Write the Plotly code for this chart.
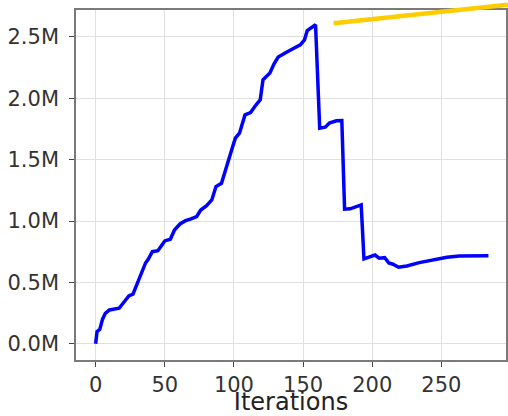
import plotly.graph_objects as go

# Blue series: iteration index and value (millions)
iterations = [0, 1, 3, 5, 7, 10, 17, 22, 24, 27, 31, 32, 36, 38, 41, 45, 48, 50, 54, 57,
              61, 65, 69, 73, 76, 80, 84, 87, 91, 93, 95, 98, 101, 104, 108, 112, 116, 119, 121, 124,
              126, 129, 132, 137, 140, 145, 148, 151, 153, 156, 159, 162, 166, 169, 174, 178, 180, 184, 189, 192,
              194, 198, 202, 205, 209, 212, 215, 219, 225, 234, 244, 254, 263, 273, 284]
values_m = [0.0, 0.098, 0.117, 0.200, 0.248, 0.275, 0.289, 0.370, 0.390, 0.403, 0.520, 0.540, 0.656, 0.688, 0.750, 0.758, 0.805, 0.838, 0.851, 0.927,
            0.976, 1.003, 1.017, 1.036, 1.090, 1.123, 1.172, 1.281, 1.308, 1.376, 1.458, 1.566, 1.675, 1.716, 1.865, 1.884, 1.947, 1.988, 2.151, 2.184,
            2.206, 2.281, 2.336, 2.369, 2.390, 2.418, 2.436, 2.477, 2.553, 2.573, 2.600, 1.757, 1.765, 1.798, 1.817, 1.819, 1.096, 1.099, 1.117, 1.131,
            0.692, 0.710, 0.723, 0.697, 0.701, 0.658, 0.648, 0.623, 0.634, 0.661, 0.683, 0.705, 0.715, 0.718, 0.716]

# Yellow segment (partly outside the axes frame)
ref_x = [172, 298]
ref_y = [2.612, 2.763]

x_ticks = [0, 50, 100, 150, 200, 250]
y_ticks = [0.0, 0.5, 1.0, 1.5, 2.0, 2.5]
y_tick_labels = ["0.0M", "0.5M", "1.0M", "1.5M", "2.0M", "2.5M"]

FONT = "DejaVu Sans"
tickfont = dict(family=FONT, size=21, color="#333333")

fig = go.Figure()
fig.add_trace(go.Scatter(x=iterations, y=values_m, mode="lines",
                         line=dict(color="#0000ff", width=3.5),
                         xaxis="x", yaxis="y", showlegend=False, hoverinfo="skip"))
fig.add_trace(go.Scatter(x=ref_x, y=ref_y, mode="lines",
                         line=dict(color="#ffcc00", width=4.5),
                         xaxis="x2", yaxis="y2", showlegend=False, hoverinfo="skip"))

axis_common = dict(showgrid=True, gridcolor="#e0e0e0", gridwidth=1,
                   showline=True, linecolor="#7a7a7a", linewidth=1.6, mirror=True,
                   ticks="outside", ticklen=5, tickwidth=1, tickcolor="#444444",
                   tickfont=tickfont, zeroline=False, automargin=False)

fig.update_layout(
    width=508, height=416,
    margin=dict(l=76, r=0, t=0, b=56, pad=0, autoexpand=False),
    paper_bgcolor="white", plot_bgcolor="rgba(0,0,0,0)",
    showlegend=False,
    xaxis=dict(domain=[0, 430 / 432], range=[-14.2, 296.7], tickvals=x_ticks,
               title=dict(text="Iterations", font=dict(family=FONT, size=24, color="#222222"), standoff=2),
               anchor="y", **axis_common),
    yaxis=dict(domain=[0, 350 / 360], range=[-0.1329, 2.720], tickvals=y_ticks, ticktext=y_tick_labels,
               anchor="x", ticklabelstandoff=6, **axis_common),
    xaxis2=dict(domain=[0, 1], range=[-14.2, 298.1], visible=False, anchor="y2", automargin=False),
    yaxis2=dict(domain=[0, 1], range=[-0.1329, 2.8016], visible=False, anchor="x2", automargin=False),
)

fig.write_html("out.html", config={"displayModeBar": False},
               post_script="document.body.style.margin='0';document.body.style.overflow='hidden';")
